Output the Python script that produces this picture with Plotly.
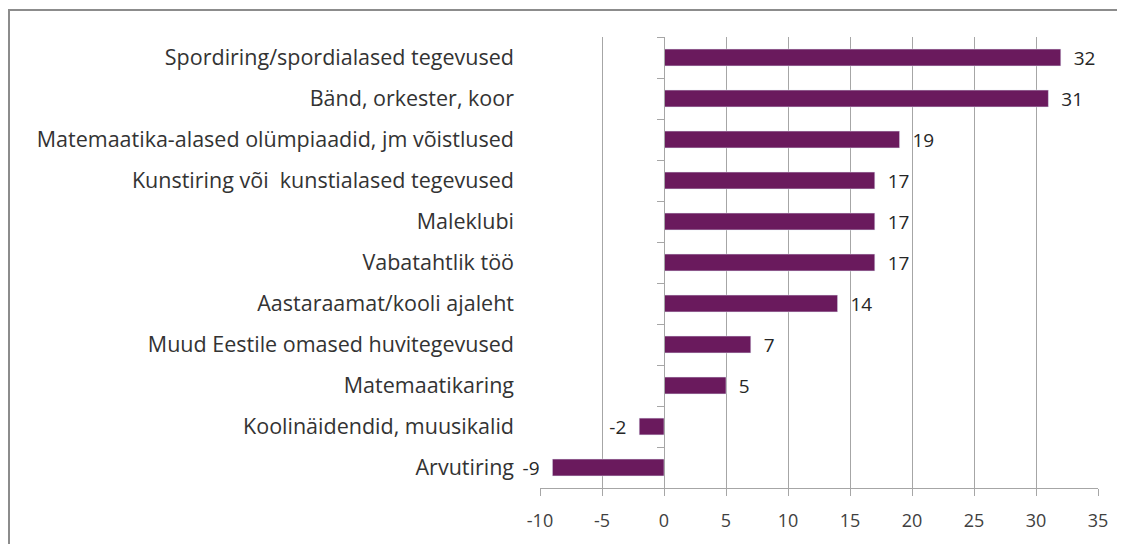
import plotly.graph_objects as go

categories = [
    "Spordiring/spordialased tegevused",
    "Bänd, orkester, koor",
    "Matemaatika-alased olümpiaadid, jm võistlused",
    "Kunstiring või  kunstialased tegevused",
    "Maleklubi",
    "Vabatahtlik töö",
    "Aastaraamat/kooli ajaleht",
    "Muud Eestile omased huvitegevused",
    "Matemaatikaring",
    "Koolinäidendid, muusikalid",
    "Arvutiring",
]
values = [32, 31, 19, 17, 17, 17, 14, 7, 5, -2, -9]
x_ticks = [-10, -5, 0, 5, 10, 15, 20, 25, 30, 35]

BAR = "#6A1A5D"
GRID = "#A6A6A6"
FONT = "'Open Sans', Lato, sans-serif"

labels = [("  " + str(v)) if v >= 0 else (str(v) + "  ") for v in values]

# page body adds 8px offset; margins compensate
L, R, T, B = 532, 35, 29, 64
PW, PH = 1125 - L - R, 544 - T - B

fig = go.Figure()
fig.add_trace(go.Bar(
    y=categories, x=values, orientation="h",
    marker=dict(color=BAR, line=dict(width=0)),
    width=0.41,
    text=labels, textposition="outside", cliponaxis=False,
    constraintext="none",
    textfont=dict(family=FONT, size=19, color="#262626"),
    hoverinfo="x+y", yaxis="y",
))
fig.add_trace(go.Bar(
    y=categories, x=values, orientation="h",
    marker=dict(color="rgba(0,0,0,0)"), width=0.41,
    hoverinfo="skip", yaxis="y2", showlegend=False,
))

fig.update_layout(
    width=1125, height=544,
    margin=dict(l=L, r=R, t=T, b=B),
    paper_bgcolor="white", plot_bgcolor="white",
    showlegend=False, barmode="overlay",
    xaxis=dict(
        range=[-10, 35], tickvals=x_ticks, ticktext=[str(t) for t in x_ticks],
        showgrid=True, gridcolor=GRID, gridwidth=1,
        zeroline=False, showline=True, linecolor=GRID, linewidth=1,
        ticks="outside", ticklen=7, tickcolor=GRID, ticklabelstandoff=9,
        tickfont=dict(family=FONT, size=18, color="#404040"),
    ),
    yaxis=dict(
        autorange="reversed", showgrid=False, zeroline=False, showline=False,
        ticks="", ticklabelstandoff=25,
        tickfont=dict(family=FONT, size=21.5, color="#333333"),
    ),
    yaxis2=dict(
        overlaying="y", anchor="free", position=10 / 45, side="left",
        autorange="reversed", showgrid=False, zeroline=False,
        showline=True, linecolor=GRID, linewidth=1,
        ticks="outside", ticklen=7, tickcolor=GRID, tickson="boundaries",
        showticklabels=False,
    ),
    shapes=[dict(
        type="rect", xref="paper", yref="paper",
        x0=(1 - L) / PW, x1=(1140 - L) / PW,
        y0=(T + PH - 600) / PH, y1=(T + PH - 2) / PH,
        line=dict(color="#8C8C8C", width=2), fillcolor="rgba(0,0,0,0)",
        layer="below",
    )],
)

fig.write_html("out.html")
